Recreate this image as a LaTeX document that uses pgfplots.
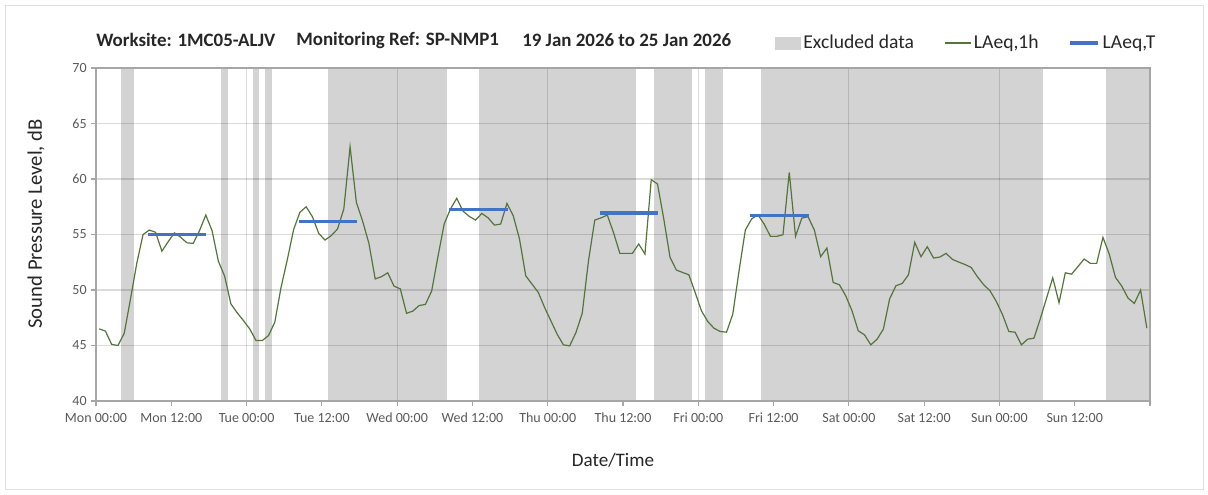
\documentclass[border=0pt]{standalone}
\usepackage{fontspec}
\setmainfont{Carlito}
\usepackage{pgfplots}
\usepackage{pgfplotstable}
\pgfplotsset{compat=1.18}
\definecolor{excl}{HTML}{D3D3D3}
\definecolor{laeq}{HTML}{56733F}
\definecolor{laeqT}{HTML}{4472C4}
\definecolor{txt}{HTML}{262626}
\definecolor{tick}{HTML}{595959}
\definecolor{axc}{HTML}{A6A6A6}

\pgfplotstableread{
h v
0.5 46.5
1.5 46.3
2.5 45.1
3.5 45.0
4.5 46.1
5.5 49.2
6.5 52.4
7.5 55.0
8.5 55.4
9.5 55.2
10.5 53.5
11.5 54.35
12.5 55.15
13.5 54.75
14.5 54.25
15.5 54.2
16.5 55.35
17.5 56.75
18.5 55.35
19.5 52.6
20.5 51.25
21.5 48.75
22.5 47.95
23.5 47.25
24.5 46.5
25.5 45.45
26.5 45.45
27.5 45.9
28.5 47.1
29.5 50.25
30.5 52.75
31.5 55.45
32.5 57.0
33.5 57.5
34.5 56.6
35.5 55.1
36.5 54.5
37.5 54.9
38.5 55.5
39.5 57.3
40.5 62.9
41.5 57.9
42.5 56.2
43.5 54.2
44.5 51.0
45.5 51.2
46.5 51.55
47.5 50.35
48.5 50.1
49.5 47.9
50.5 48.1
51.5 48.6
52.5 48.7
53.5 49.9
54.5 53.0
55.5 55.95
56.5 57.3
57.5 58.26
58.5 57.1
59.5 56.63
60.5 56.3
61.5 56.9
62.5 56.5
63.5 55.85
64.5 55.94
65.5 57.8
66.5 56.7
67.5 54.6
68.5 51.28
69.5 50.53
70.5 49.78
71.5 48.43
72.5 47.23
73.5 46.02
74.5 45.06
75.5 44.97
76.5 46.17
77.5 47.9
78.5 52.64
79.5 56.3
80.5 56.5
81.5 56.75
82.5 55.15
83.5 53.3
84.5 53.3
85.5 53.3
86.5 54.15
87.5 53.24
88.5 59.94
89.5 59.55
90.5 56.4
91.5 52.94
92.5 51.8
93.5 51.58
94.5 51.37
95.5 49.78
96.5 48.13
97.5 47.17
98.5 46.56
99.5 46.26
100.5 46.2
101.5 47.83
102.5 51.73
103.5 55.4
104.5 56.4
105.5 56.78
106.5 55.94
107.5 54.83
108.5 54.83
109.5 54.98
110.5 60.6
111.5 54.83
112.5 56.48
113.5 56.6
114.5 55.4
115.5 53.0
116.5 53.78
117.5 50.68
118.5 50.47
119.5 49.48
120.5 48.13
121.5 46.32
122.5 45.96
123.5 45.06
124.5 45.57
125.5 46.47
126.5 49.2
127.5 50.38
128.5 50.59
129.5 51.37
130.5 54.29
131.5 53.0
132.5 53.9
133.5 52.88
134.5 52.97
135.5 53.3
136.5 52.76
137.5 52.52
138.5 52.3
139.5 52.03
140.5 51.19
141.5 50.47
142.5 49.93
143.5 48.97
144.5 47.77
145.5 46.26
146.5 46.2
147.5 45.06
148.5 45.57
149.5 45.66
150.5 47.38
151.5 49.25
152.5 51.1
153.5 48.85
154.5 51.55
155.5 51.43
156.5 52.1
157.5 52.79
158.5 52.4
159.5 52.4
160.5 54.74
161.5 53.24
162.5 51.13
163.5 50.35
164.5 49.27
165.5 48.79
166.5 49.99
167.5 46.56
}\hourly

\begin{document}
\begin{tikzpicture}
\begin{scope}[x=0.75pt,y=-0.75pt]
\path[use as bounding box] (0,0) rectangle (1208,494);
\draw[color=black!12, line width=0.75pt] (5,5) rectangle (1203,489);
\node[anchor=west, inner sep=0pt, font=\fontsize{14.2}{16}\selectfont\bfseries, text=txt] at (96,40) {Worksite: 1MC05-ALJV};
\node[anchor=west, inner sep=0pt, font=\fontsize{14.2}{16}\selectfont\bfseries, text=txt] at (296,40) {Monitoring Ref: SP-NMP1};
\node[anchor=west, inner sep=0pt, font=\fontsize{14.2}{16}\selectfont\bfseries, text=txt] at (522,40) {19 Jan 2026 to 25 Jan 2026};
\end{scope}
\begin{axis}[
  at={(72pt,-300.75pt)}, anchor=south west,
  scale only axis, width=790.5pt, height=249.75pt,
  set layers,
  xmin=0, xmax=168, ymin=40, ymax=70,
  xtick={0,12,...,168},
  xticklabels={Mon 00:00, Mon 12:00, Tue 00:00, Tue 12:00, Wed 00:00, Wed 12:00, Thu 00:00, Thu 12:00, Fri 00:00, Fri 12:00, Sat 00:00, Sat 12:00, Sun 00:00, Sun 12:00, {}},
  ytick={40,45,...,70},
  extra x ticks={24,48,72,96,120,144},
  extra x tick labels={},
  extra x tick style={xmajorgrids=true, major tick length=0pt, major grid style={black, opacity=0.14, line width=0.75pt}},
  ymajorgrids=true,
  major grid style={black, opacity=0.14, line width=1pt},
  axis line style={axc, line width=0.8pt},
  tick style={axc, line width=0.8pt},
  tick align=outside, major tick length=3.5pt,
  xtick pos=bottom, ytick pos=left,
  /pgf/number format/assume math mode=true,
  tick label style={text=tick, font=\fontsize{10.5}{12}\selectfont},
  xticklabel style={yshift=-2pt},
  ylabel={Sound Pressure Level, dB},
  xlabel={Date/Time},
  label style={text=txt},
  ylabel style={at={(axis description cs:-0.057,0.532)}, anchor=center, font=\fontsize{15.5}{17}\selectfont},
  xlabel style={at={(axis description cs:0.4905,-0.177)}, anchor=center, font=\fontsize{14.3}{16}\selectfont},
  legend style={at={(axis description cs:1.008,1.075)}, anchor=east, draw=none, fill=none,
    legend columns=3, font=\fontsize{14.7}{16}\selectfont, text=txt,
    /tikz/every even column/.append style={column sep=20.5pt},
    legend cell align=left, inner sep=0pt},
]
\addlegendimage{legend image code/.code={\fill[excl] (0pt,-4.5pt) rectangle (19pt,4.5pt);}}
\addlegendentry{Excluded data}
\addlegendimage{legend image code/.code={\draw[laeq, line width=0.9pt] (0pt,0pt) -- (19.5pt,0pt);}}
\addlegendentry{LAeq,1h}
\addlegendimage{legend image code/.code={\draw[laeqT, line width=2.5pt] (0pt,0pt) -- (21pt,0pt);}}
\addlegendentry{LAeq,T}

\addplot[fill=excl, draw=none, forget plot, on layer=axis background] coordinates {(4,40) (6,40) (6,70) (4,70)} -- cycle;
\addplot[fill=excl, draw=none, forget plot, on layer=axis background] coordinates {(20,40) (21,40) (21,70) (20,70)} -- cycle;
\addplot[fill=excl, draw=none, forget plot, on layer=axis background] coordinates {(25,40) (26,40) (26,70) (25,70)} -- cycle;
\addplot[fill=excl, draw=none, forget plot, on layer=axis background] coordinates {(27,40) (28,40) (28,70) (27,70)} -- cycle;
\addplot[fill=excl, draw=none, forget plot, on layer=axis background] coordinates {(37,40) (56,40) (56,70) (37,70)} -- cycle;
\addplot[fill=excl, draw=none, forget plot, on layer=axis background] coordinates {(61,40) (86,40) (86,70) (61,70)} -- cycle;
\addplot[fill=excl, draw=none, forget plot, on layer=axis background] coordinates {(89,40) (95,40) (95,70) (89,70)} -- cycle;
\addplot[fill=excl, draw=none, forget plot, on layer=axis background] coordinates {(97,40) (100,40) (100,70) (97,70)} -- cycle;
\addplot[fill=excl, draw=none, forget plot, on layer=axis background] coordinates {(106,40) (151,40) (151,70) (106,70)} -- cycle;
\addplot[fill=excl, draw=none, forget plot, on layer=axis background] coordinates {(161,40) (168,40) (168,70) (161,70)} -- cycle;

\addplot[laeq, line width=0.9pt, forget plot] table[x=h, y=v] {\hourly};

\addplot[laeqT, line width=2.5pt, forget plot] coordinates {(8.3,55.0) (17.5,55.0)};
\addplot[laeqT, line width=2.5pt, forget plot] coordinates {(32.4,56.2) (41.6,56.2)};
\addplot[laeqT, line width=2.5pt, forget plot] coordinates {(56.3,57.25) (65.6,57.25)};
\addplot[laeqT, line width=2.5pt, forget plot] coordinates {(80.3,56.95) (89.6,56.95)};
\addplot[laeqT, line width=2.5pt, forget plot] coordinates {(104.2,56.7) (113.6,56.7)};
\end{axis}
\end{tikzpicture}
\end{document}
